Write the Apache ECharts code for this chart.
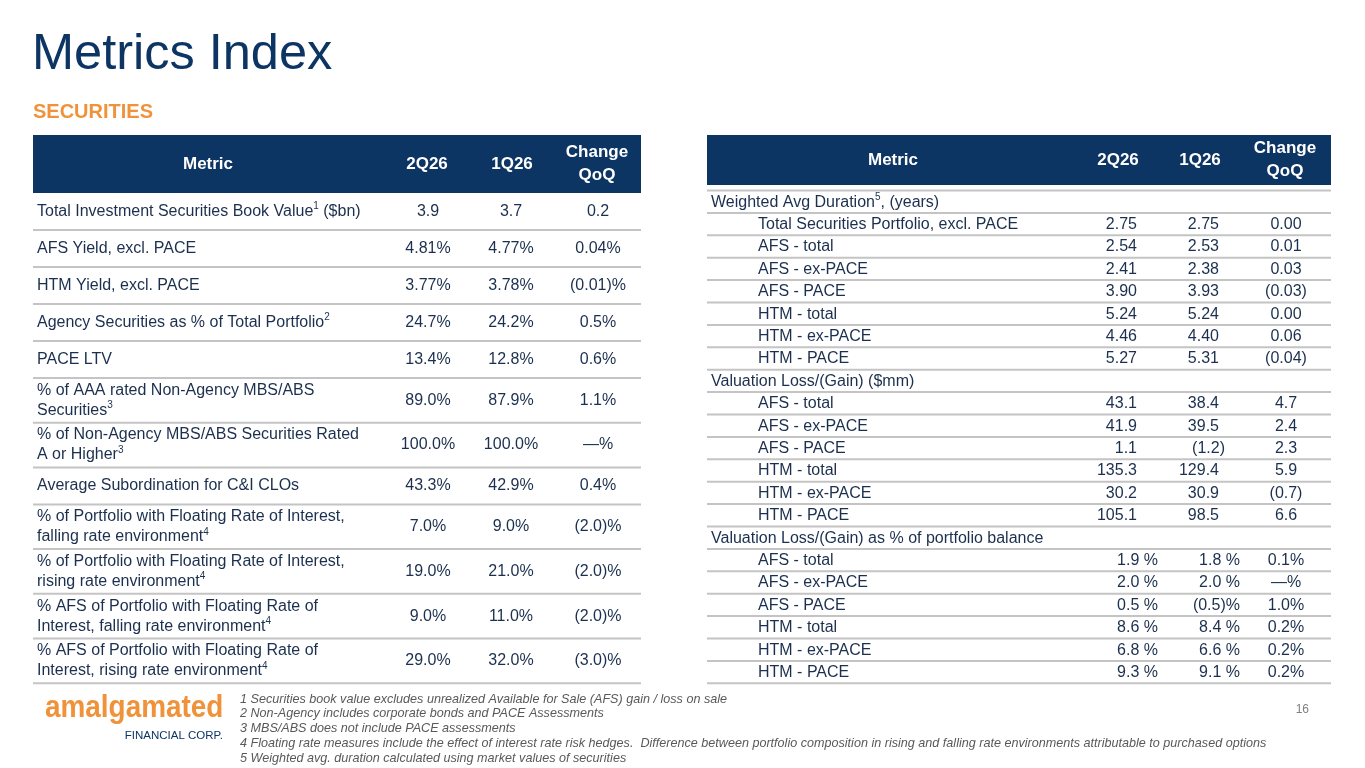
<!DOCTYPE html>
<html>
<head>
<meta charset="utf-8">
<script src="https://cdn.jsdelivr.net/npm/echarts@6/dist/echarts.min.js"></script>
<style>
  html, body { margin: 0; padding: 0; background: #fff; }
  #container { width: 1365px; height: 768px; }
</style>
</head>
<body>
<div id="container"></div>
<script>
// left table
var leftMetrics = [
    'Total Investment Securities Book Value{s|1} ($bn)',
    'AFS Yield, excl. PACE',
    'HTM Yield, excl. PACE',
    'Agency Securities as % of Total Portfolio{s|2}',
    'PACE LTV',
    '% of AAA rated Non-Agency MBS/ABS\nSecurities{s|3}',
    '% of Non-Agency MBS/ABS Securities Rated\nA or Higher{s|3}',
    'Average Subordination for C&I CLOs',
    '% of Portfolio with Floating Rate of Interest,\nfalling rate environment{s|4}',
    '% of Portfolio with Floating Rate of Interest,\nrising rate environment{s|4}',
    '% AFS of Portfolio with Floating Rate of\nInterest, falling rate environment{s|4}',
    '% AFS of Portfolio with Floating Rate of\nInterest, rising rate environment{s|4}'
];
var left2Q26 = ['3.9', '4.81%', '3.77%', '24.7%', '13.4%', '89.0%', '100.0%', '43.3%', '7.0%', '19.0%', '9.0%', '29.0%'];
var left1Q26 = ['3.7', '4.77%', '3.78%', '24.2%', '12.8%', '87.9%', '100.0%', '42.9%', '9.0%', '21.0%', '11.0%', '32.0%'];
var leftChange = ['0.2', '0.04%', '(0.01)%', '0.5%', '0.6%', '1.1%', '—%', '0.4%', '(2.0)%', '(2.0)%', '(2.0)%', '(3.0)%'];

// right table (rows with no values are group headings)
var rightMetrics = [
    'Weighted Avg Duration{s|5}, (years)',
    'Total Securities Portfolio, excl. PACE', 'AFS - total', 'AFS - ex-PACE', 'AFS - PACE', 'HTM - total', 'HTM - ex-PACE', 'HTM - PACE',
    'Valuation Loss/(Gain) ($mm)',
    'AFS - total', 'AFS - ex-PACE', 'AFS - PACE', 'HTM - total', 'HTM - ex-PACE', 'HTM - PACE',
    'Valuation Loss/(Gain) as % of portfolio balance',
    'AFS - total', 'AFS - ex-PACE', 'AFS - PACE', 'HTM - total', 'HTM - ex-PACE', 'HTM - PACE'
];
var right2Q26 = ['', '2.75', '2.54', '2.41', '3.90', '5.24', '4.46', '5.27',
    '', '43.1', '41.9', '1.1', '135.3', '30.2', '105.1',
    '', '1.9 %', '2.0 %', '0.5 %', '8.6 %', '6.8 %', '9.3 %'];
var right1Q26 = ['', '2.75', '2.53', '2.38', '3.93', '5.24', '4.40', '5.31',
    '', '38.4', '39.5', '(1.2)', '129.4', '30.9', '98.5',
    '', '1.8 %', '2.0 %', '(0.5)%', '8.4 %', '6.6 %', '9.1 %'];
var rightChange = ['', '0.00', '0.01', '0.03', '(0.03)', '0.00', '0.06', '(0.04)',
    '', '4.7', '2.4', '2.3', '5.9', '(0.7)', '6.6',
    '', '0.1%', '—%', '1.0%', '0.2%', '0.2%', '0.2%'];

var headers = ['Metric', '2Q26', '1Q26', 'Change\nQoQ'];
var footnotes = [
    '1 Securities book value excludes unrealized Available for Sale (AFS) gain / loss on sale',
    '2 Non-Agency includes corporate bonds and PACE Assessments',
    '3 MBS/ABS does not include PACE assessments',
    '4 Floating rate measures include the effect of interest rate risk hedges.  Difference between portfolio composition in rising and falling rate environments attributable to purchased options',
    '5 Weighted avg. duration calculated using market values of securities'
];

var FONT = 'Liberation Sans, Arial, sans-serif';
var NAVY = '#0d3564';
var TEXT = '#1b2f4e';
var ORANGE = '#f0923a';
var RULE = '#c4c4c4';
var supStyle = { s: { fontSize: 10, fontFamily: FONT, fill: TEXT, verticalAlign: 'top', lineHeight: 20 } };

var els = [];

function txt(x, y, text, o) {
    o = o || {};
    els.push({
        type: 'text', x: x, y: y, silent: true,
        scaleX: o.scaleX || 1,
        style: {
            text: text,
            fill: o.fill || TEXT,
            fontSize: o.size || 16,
            fontFamily: FONT,
            fontWeight: o.weight || 'normal',
            fontStyle: o.style || 'normal',
            align: o.align || 'left',
            verticalAlign: o.valign || 'middle',
            lineHeight: o.lineHeight || 20,
            rich: supStyle
        }
    });
}
function rule(x1, x2, y, w) {
    els.push({ type: 'line', silent: true, shape: { x1: x1, y1: y, x2: x2, y2: y }, style: { stroke: RULE, lineWidth: w || 2 } });
}
function headerBar(x, y, w, h, cols) {
    els.push({ type: 'rect', silent: true, shape: { x: x, y: y, width: w, height: h }, style: { fill: NAVY } });
    headers.forEach(function (t, i) {
        txt(cols[i], y + h / 2, t, { fill: '#fff', weight: 'bold', size: 17, align: 'center', lineHeight: 23 });
    });
}

// title
txt(32, 55, 'Metrics Index', { fill: NAVY, size: 50.5 });
txt(33, 112, 'SECURITIES', { fill: ORANGE, size: 20, weight: 'bold' });

// left table
headerBar(33, 135, 608, 58, [208, 427, 512, 597]);
var y = 193;
leftMetrics.forEach(function (m, i) {
    var h = m.indexOf('\n') >= 0 ? 44.7 : 37;
    var cy = y + h / 2;
    txt(37, cy, m);
    txt(428, cy, left2Q26[i], { align: 'center' });
    txt(511, cy, left1Q26[i], { align: 'center' });
    txt(598, cy, leftChange[i], { align: 'center' });
    y += h;
    rule(33, 641, y, 2);
});

// right table
headerBar(707, 135, 624, 50, [893, 1118, 1200, 1285]);
var ry = 190.5, step = 22.4;
rule(707, 1331, ry, 2);
function valueX(base, v) {
    if (/%$/.test(v)) return base + 21;
    if (/\)$/.test(v)) return base + 6;
    return base;
}
rightMetrics.forEach(function (m, i) {
    var cy = ry + step * i + step / 2 + 0.5;
    var group = right2Q26[i] === '';
    txt(group ? 711 : 758, cy, m);
    if (!group) {
        txt(valueX(1137, right2Q26[i]), cy, right2Q26[i], { align: 'right' });
        txt(valueX(1219, right1Q26[i]), cy, right1Q26[i], { align: 'right' });
        txt(1286, cy, rightChange[i], { align: 'center' });
    }
    rule(707, 1331, ry + step * (i + 1), 2);
});

// footer
txt(45, 708, 'amalgamated', { fill: ORANGE, size: 31, weight: 'bold', scaleX: 0.9 });
txt(223, 736, 'FINANCIAL CORP.', { fill: NAVY, size: 11.5, align: 'right' });
footnotes.forEach(function (f, i) {
    txt(240, 699 + i * 14.8, f, { fill: '#595959', size: 12.6, style: 'italic', lineHeight: 14 });
});
txt(1309, 710, '16', { fill: '#7f7f7f', size: 12, align: 'right' });

var myChart = echarts.init(document.getElementById('container'));
var option = {
    animation: false,
    backgroundColor: '#fff',
    graphic: { elements: els }
};
myChart.setOption(option, true);
</script>
</body>
</html>
